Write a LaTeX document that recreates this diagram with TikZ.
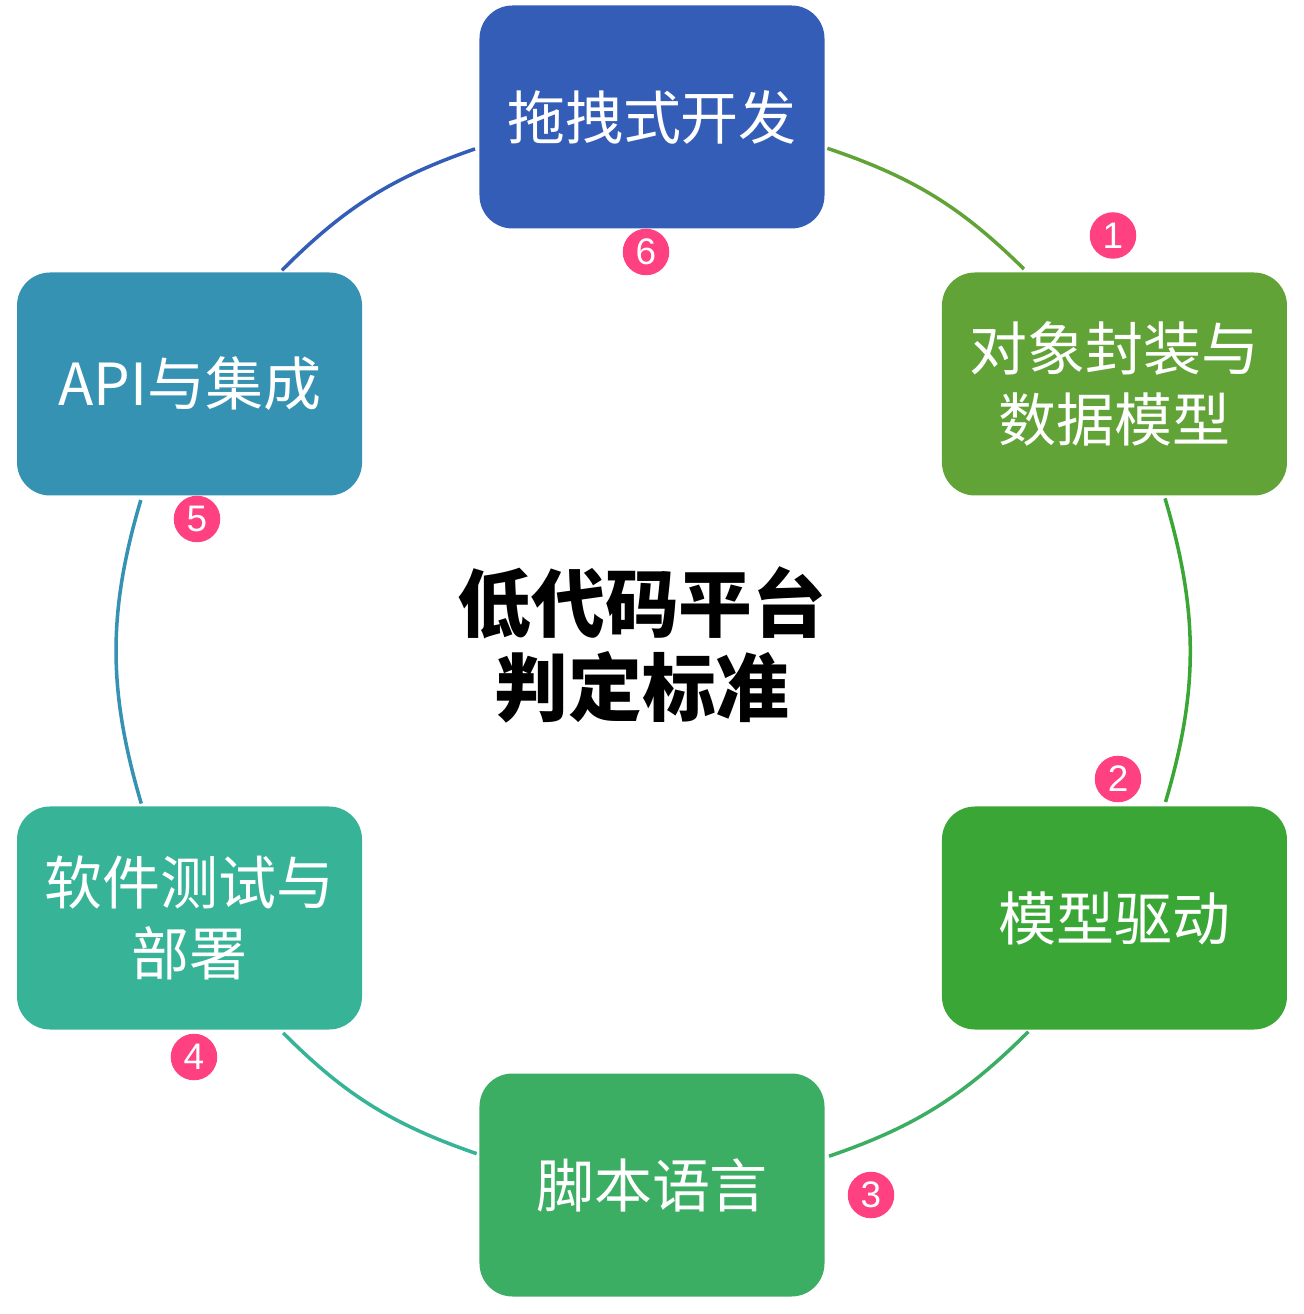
\documentclass[tikz,border=0pt]{standalone}
\usepackage{fontspec}
\setmainfont{Noto Sans CJK SC}
\newfontfamily\numfont{Liberation Sans}
\usetikzlibrary{positioning}
\definecolor{cDrag}{HTML}{345DB7}
\definecolor{cObj}{HTML}{62A337}
\definecolor{cDrive}{HTML}{3AA635}
\definecolor{cScript}{HTML}{3BAE63}
\definecolor{cTest}{HTML}{37B497}
\definecolor{cApi}{HTML}{3692B3}
\definecolor{cBadge}{HTML}{FF4081}
\tikzset{
  stage/.style={rounded corners=0.66cm, minimum width=6.9cm, minimum height=4.46cm,
     inner sep=0pt, align=center, text=white, font=\fontsize{33}{40}\selectfont},
  badge/.style={circle, fill=cBadge, minimum size=0.93cm, inner sep=0pt,
     text=white, font=\numfont\fontsize{21}{21}\selectfont},
  ring/.style={line width=2pt, shorten <=1.5pt, shorten >=2.5pt},
}

\begin{document}
\begin{tikzpicture}
  \useasboundingbox (-13.04,-13.26) rectangle (13.04,13.02);
  % six criteria round the ring
  \node[stage, fill=cDrag]   (drag)   at (90:10.68)  {拖拽式开发};
  \node[stage, fill=cObj]    (obj)    at (30:10.68)  {对象封装与\\数据模型};
  \node[stage, fill=cDrive]  (drive)  at (-30:10.68) {模型驱动};
  \node[stage, fill=cScript] (script) at (-90:10.68) {脚本语言};
  \node[stage, fill=cTest]   (test)   at (210:10.68) {软件测试与\\部署};
  \node[stage, fill=cApi]    (api)    at (150:10.68) {API与集成};
  % ring segments, coloured like the box they lead into
  \draw[ring, cObj]    (drag.-10.3)   to[bend left=13]   (obj.128.7);
  \draw[ring, cDrive]  (obj.-66.4)    to[bend left=16.5] (drive.66.3);
  \draw[ring, cScript] (drive.-127.7) to[bend left=13]   (script.9.9);
  \draw[ring, cTest]   (script.170.1) to[bend left=13]   (test.-51.6);
  \draw[ring, cApi]    (test.113.3)   to[bend left=16.5] (api.-113.1);
  \draw[ring, cDrag]   (api.51.6)     to[bend left=13]   (drag.190.2);
  \node[font=\bfseries\fontsize{42}{48}\selectfont, align=center] (title) at (-0.2,0.12)
    {低代码平台\\判定标准};
  \node[badge] (n1) at (9.22,8.31)    {1};
  \node[badge] (n2) at (9.32,-2.56)   {2};
  \node[badge] (n3) at (4.38,-10.88)  {3};
  \node[badge] (n4) at (-9.16,-8.12)  {4};
  \node[badge] (n5) at (-9.10,2.64)   {5};
  \node[badge] (n6) at (-0.12,7.98)   {6};
\end{tikzpicture}
\end{document}
